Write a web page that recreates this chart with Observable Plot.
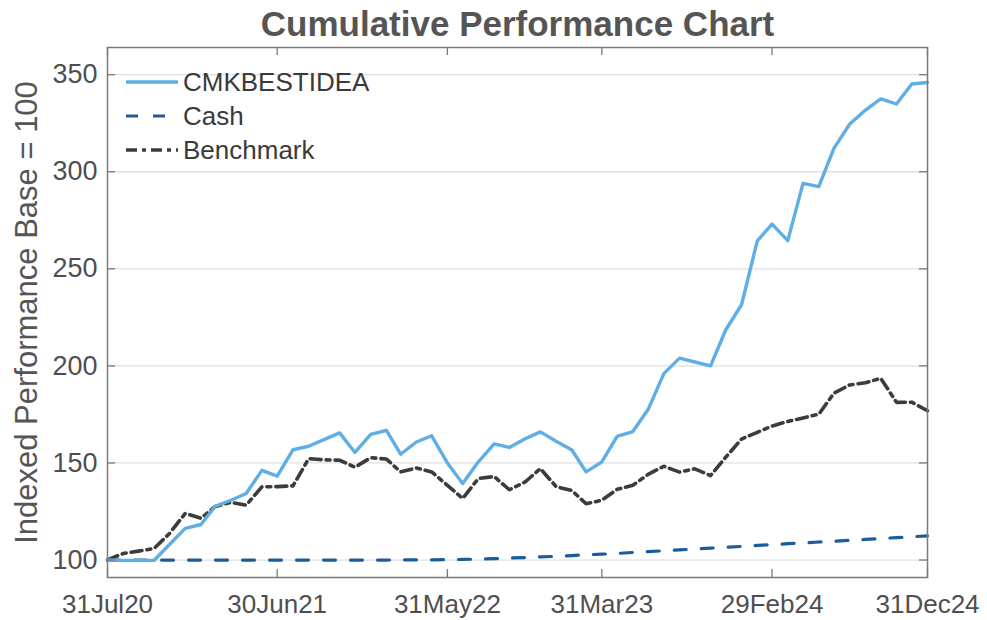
<!DOCTYPE html>
<html>
<head>
<meta charset="utf-8">
<script src="https://cdn.jsdelivr.net/npm/d3@7"></script>
<script src="https://cdn.jsdelivr.net/npm/@observablehq/plot@0.6"></script>
<style>
  body { margin: 0; background: #fff; }
  #wrap { position: relative; width: 987px; height: 620px; font-family: "Liberation Sans", Arial, Helvetica, sans-serif; }
  #legend { position: absolute; left: 124px; top: 65px; }
  .row { display: flex; align-items: center; height: 34px; font-size: 26px; color: #3a3a3a; white-space: nowrap; }
  .row svg { width: 56px; height: 10px; margin-right: 3px; flex: none; }
</style>
</head>
<body>
<div id="wrap"><div id="legend"></div></div>
<script>
const FONT = '"Liberation Sans", Arial, Helvetica, sans-serif';

const dates = [
  "2020-07-31","2020-08-31","2020-09-30","2020-10-31","2020-11-30","2020-12-31",
  "2021-01-31","2021-02-28","2021-03-31","2021-04-30","2021-05-31","2021-06-30",
  "2021-07-31","2021-08-31","2021-09-30","2021-10-31","2021-11-30","2021-12-31",
  "2022-01-31","2022-02-28","2022-03-31","2022-04-30","2022-05-31","2022-06-30",
  "2022-07-31","2022-08-31","2022-09-30","2022-10-31","2022-11-30","2022-12-31",
  "2023-01-31","2023-02-28","2023-03-31","2023-04-30","2023-05-31","2023-06-30",
  "2023-07-31","2023-08-31","2023-09-30","2023-10-31","2023-11-30","2023-12-31",
  "2024-01-31","2024-02-29","2024-03-31","2024-04-30","2024-05-31","2024-06-30",
  "2024-07-31","2024-08-31","2024-09-30","2024-10-31","2024-11-30","2024-12-31"
];

const cmkBestIdea = [
  100, 99.8, 99.8, 99.9, 108, 116.3, 118.3, 127.7, 130.8, 134.3, 146.2, 143.2,
  156.8, 158.6, 162, 165.5, 155.4, 164.7, 166.8, 154.5, 160.8, 164, 150, 139.4,
  150.6, 159.8, 158, 162.5, 166, 161.2, 156.7, 145.4, 150.5, 163.7, 166.2, 177.5,
  196, 204, 202, 200, 218.6, 231.5, 264.4, 273, 264.5, 294, 292.3, 312.2,
  324.6, 331.8, 337.5, 334.9, 345.2, 346
];

const cash = [
  100, 100, 100, 100, 100, 100, 100, 100, 100, 100, 100, 100,
  100, 100, 100, 100, 100, 100, 100, 100.1, 100.1, 100.1, 100.2, 100.3,
  100.5, 100.7, 101.0, 101.3, 101.6, 101.9, 102.3, 102.7, 103.0, 103.4, 103.9, 104.3,
  104.8, 105.2, 105.7, 106.1, 106.6, 107.0, 107.5, 107.9, 108.4, 108.8, 109.3, 109.7,
  110.2, 110.6, 111.1, 111.5, 112.0, 112.4
];

const benchmark = [
  100, 103.4, 104.6, 106, 113.7, 124, 121.5, 127.6, 129.7, 128.3, 137.7, 137.8,
  138.2, 152.2, 151.6, 151.4, 147.8, 152.7, 152, 145.4, 147.4, 145.4, 138.5, 131.7,
  142, 143, 136.2, 140.2, 147.1, 137.8, 135.8, 129, 130.8, 136.4, 138.5, 144.1,
  148.3, 145.3, 147, 143.5, 153, 162.3, 165.8, 169, 171.4, 173.2, 175.1, 186,
  190.2, 191.3, 193.6, 181.2, 181.3, 176.9
];

const xTickValues = ["2020-07-31","2021-06-30","2022-05-31","2023-03-31","2024-02-29","2024-12-31"];
const xTickLabels = ["31Jul20","30Jun21","31May22","31Mar23","29Feb24","31Dec24"];
const yTicks = [100, 150, 200, 250, 300, 350];

const seriesNames = ["CMKBESTIDEA", "Cash", "Benchmark"];
const seriesColors = ["#5faee5", "#1d5c9a", "#3c3c3c"];
const seriesDash = [null, "12,15", "11,5,4,5"];
const seriesWidth = [3.4, 3.2, 3.6];

const titleText = "Cumulative Performance Chart";
const yLabelText = "Indexed Performance Base = 100";

const parse = d3.utcParse("%Y-%m-%d");
const rows = dates.map((d, i) => ({date: parse(d), cmk: cmkBestIdea[i], cash: cash[i], bench: benchmark[i]}));
const xTickDates = xTickValues.map(parse);
const labelMap = new Map(xTickDates.map((d, i) => [+d, xTickLabels[i]]));

const axisGray = "#7a7a7a";
const frameW = 987 - 107 - 60;
const frameH = 620 - 47 - 43;
const tickLen = 8;

const chart = Plot.plot({
  width: 987,
  height: 620,
  marginLeft: 107,
  marginRight: 60,
  marginTop: 47,
  marginBottom: 43,
  style: {fontFamily: FONT, background: "white"},
  x: {type: "utc", domain: [parse(dates[0]), parse(dates[dates.length - 1])]},
  y: {domain: [91, 364]},
  marks: [
    Plot.ruleY(yTicks, {y: d => d, stroke: "#e0e0e0", strokeWidth: 1.3}),
    Plot.line(rows, {x: "date", y: "cash", stroke: seriesColors[1], strokeWidth: seriesWidth[1], strokeDasharray: seriesDash[1]}),
    Plot.line(rows, {x: "date", y: "bench", stroke: seriesColors[2], strokeWidth: seriesWidth[2], strokeDasharray: seriesDash[2]}),
    Plot.line(rows, {x: "date", y: "cmk", stroke: seriesColors[0], strokeWidth: seriesWidth[0]}),
    Plot.frame({stroke: axisGray, strokeWidth: 1.5}),
    Plot.ruleX(xTickDates, {x: d => d, insetTop: frameH - tickLen, stroke: axisGray, strokeWidth: 1.3}),
    Plot.ruleX(xTickDates, {x: d => d, insetBottom: frameH - tickLen, stroke: axisGray, strokeWidth: 1.3}),
    Plot.ruleY(yTicks, {y: d => d, insetRight: frameW - tickLen, stroke: axisGray, strokeWidth: 1.3}),
    Plot.ruleY(yTicks, {y: d => d, insetLeft: frameW - tickLen, stroke: axisGray, strokeWidth: 1.3}),
    Plot.axisX({ticks: xTickDates, tickFormat: d => labelMap.get(+d), tickSize: 0, tickPadding: 17, fontSize: 26, color: "#4f4f4f", label: null}),
    Plot.axisY({ticks: yTicks, tickSize: 0, tickPadding: 10, fontSize: 27, color: "#4f4f4f", label: null}),
    Plot.text([titleText], {frameAnchor: "top", dy: -36, fontSize: 35, fontWeight: "bold", fill: "#555555"}),
    Plot.text([yLabelText], {frameAnchor: "left", dx: -80, textAnchor: "middle", rotate: -90, fontSize: 31, fill: "#555555"})
  ]
});

const wrap = document.getElementById("wrap");
wrap.insertBefore(chart, wrap.firstChild);

const legend = document.getElementById("legend");
seriesNames.forEach((name, i) => {
  const row = document.createElement("div");
  row.className = "row";
  const dash = seriesDash[i] ? ` stroke-dasharray="${seriesDash[i]}"` : "";
  row.innerHTML = `<svg viewBox="0 0 56 10"><line x1="2" y1="5" x2="54" y2="5" stroke="${seriesColors[i]}" stroke-width="${seriesWidth[i]}"${dash}/></svg><span>${name}</span>`;
  legend.appendChild(row);
});
</script>
</body>
</html>
